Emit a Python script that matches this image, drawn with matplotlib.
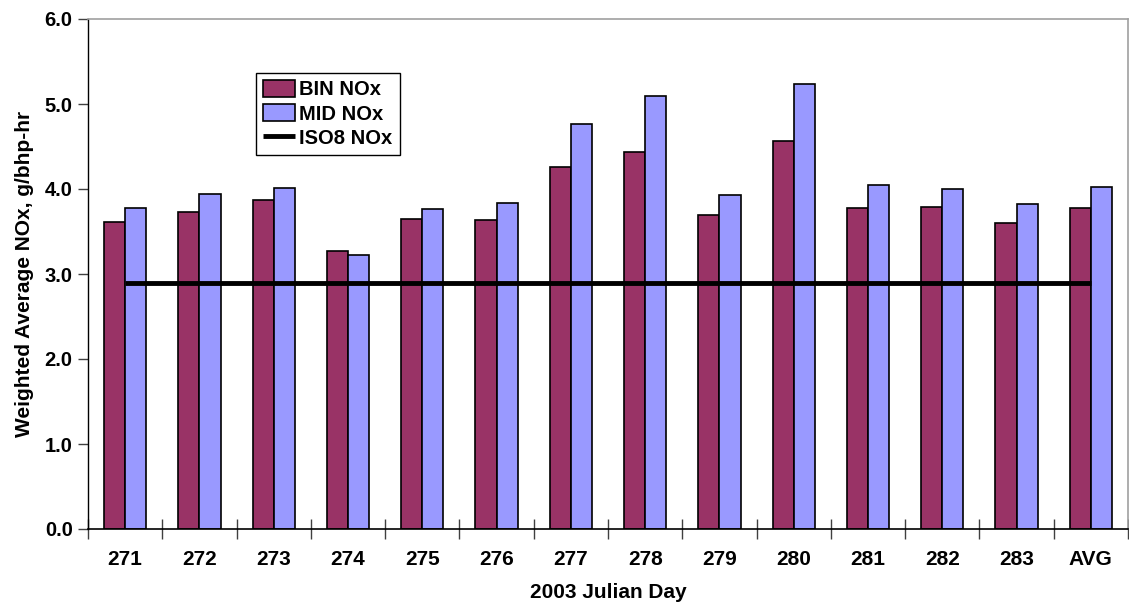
import matplotlib
matplotlib.use("Agg")
import matplotlib.pyplot as plt
import numpy as np

categories = ["271", "272", "273", "274", "275", "276", "277", "278", "279", "280",
              "281", "282", "283", "AVG"]
bin_nox = [3.61, 3.73, 3.87, 3.27, 3.65, 3.64, 4.26, 4.43, 3.70, 4.56, 3.78, 3.79, 3.60, 3.78]
mid_nox = [3.78, 3.94, 4.01, 3.22, 3.76, 3.84, 4.76, 5.09, 3.93, 5.24, 4.05, 4.00, 3.82, 4.02]
iso8_nox = [2.9] * len(categories)
y_ticks = [0.0, 1.0, 2.0, 3.0, 4.0, 5.0, 6.0]

plt.rcParams['font.family'] = ['Liberation Sans', 'DejaVu Sans']
plt.rcParams['font.weight'] = 'bold'

W, H = 1129, 609
fig = plt.figure(figsize=(W / 100, H / 100), dpi=100)
ax = fig.add_axes([88 / W, (H - 529) / H, 1040 / W, 510 / H])

x = np.arange(len(categories))
bw = 0.285
h_bin = ax.bar(x - bw / 2, bin_nox, bw, color="#993366", edgecolor="black", linewidth=1.2,
               label="BIN NOx", zorder=2)
h_mid = ax.bar(x + bw / 2, mid_nox, bw, color="#9999FF", edgecolor="black", linewidth=1.2,
               label="MID NOx", zorder=2)
h_iso, = ax.plot(x, iso8_nox, color="black", linewidth=3.5, label="ISO8 NOx", zorder=3,
                 solid_capstyle="butt")

ax.set_xlim(-0.5, len(categories) - 0.5)
ax.set_ylim(0, 6)
ax.set_yticks(y_ticks)
ax.set_yticklabels([f"{v:.1f}" for v in y_ticks], fontsize=14.5, fontweight="bold")
ax.tick_params(axis="y", direction="out", length=7, width=1, color="#404040", pad=4)

ax.set_xticks(x)
ax.set_xticklabels(categories, fontsize=15, fontweight="bold")
ax.tick_params(axis="x", length=0, pad=15)
ax.set_xticks(np.arange(len(categories) + 1) - 0.5, minor=True)
ax.tick_params(axis="x", which="minor", direction="inout", length=14, width=1, color="#404040")

for s in ["top", "right"]:
    ax.spines[s].set_color("#a0a0a0")
    ax.spines[s].set_linewidth(1.2)
ax.spines["left"].set_color("black")
ax.spines["bottom"].set_color("black")
ax.spines["left"].set_linewidth(1)
ax.spines["bottom"].set_linewidth(1.2)

ax.set_xlabel("2003 Julian Day", fontsize=15, fontweight="bold", labelpad=10)
ax.set_ylabel("Weighted Average NOx, g/bhp-hr", fontsize=15, fontweight="bold", labelpad=8)

leg = ax.legend(handles=[h_bin, h_mid, h_iso], loc="upper left",
                bbox_to_anchor=(256 / W, 1 - 73 / H),
                bbox_transform=fig.transFigure, fancybox=False, framealpha=1,
                edgecolor="black", prop={"size": 14.5, "weight": "bold"},
                handlelength=1.6, handleheight=0.9, handletextpad=0.2,
                borderpad=0.35, labelspacing=0.25, borderaxespad=0)
leg.get_frame().set_linewidth(1)

fig.savefig("out.png", dpi=100)
